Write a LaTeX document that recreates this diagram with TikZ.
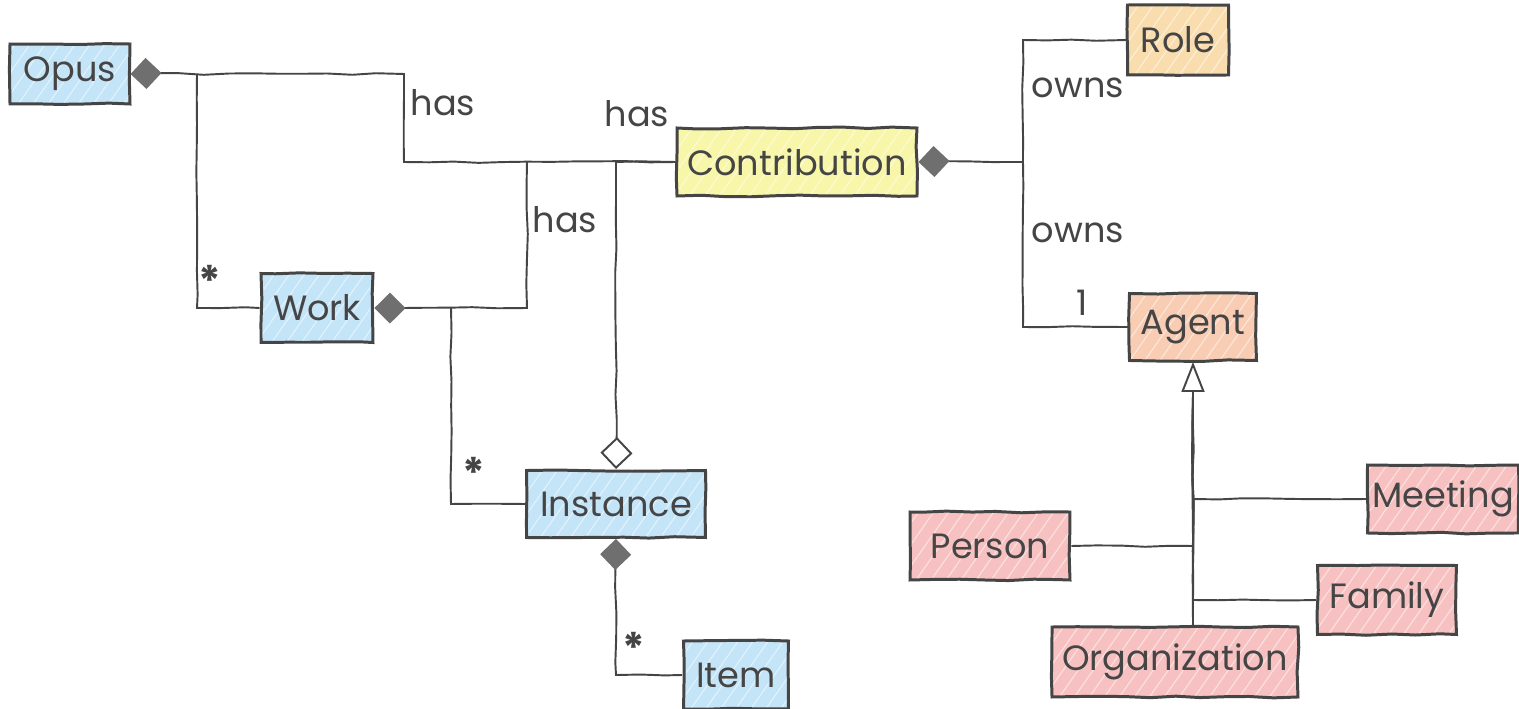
\documentclass[tikz,border=0pt]{standalone}
\usepackage{fontspec}
\setmainfont{Poppins}
\usetikzlibrary{arrows.meta,decorations.pathmorphing,patterns.meta,calc}

\definecolor{ink}{HTML}{454545}
\definecolor{cblue}{HTML}{C4E4F8}
\definecolor{cyellow}{HTML}{F8F6A8}
\definecolor{corange}{HTML}{F9DDAE}
\definecolor{csalmon}{HTML}{F9CDB4}
\definecolor{cpink}{HTML}{F7C1C1}
\definecolor{dgray}{HTML}{6F6F6F}

\tikzset{
  sketch/.style={decorate, decoration={random steps, segment length=14pt, amplitude=0.5pt}},
  cls/.style={draw=ink, line width=1.7pt, sketch, text=ink,
    font=\fontsize{20}{24}\selectfont, inner sep=0pt,
    preaction={fill=#1},
    pattern={Lines[angle=55,distance=7pt,line width=0.6pt]},
    pattern color=white!55!#1},
  lab/.style={text=ink, font=\fontsize{20}{24}\selectfont, inner sep=0pt},
  mult/.style={text=ink, font=\fontsize{24}{26}\selectfont\bfseries, inner sep=0pt},
  conn/.style={draw=ink, line width=1.1pt, sketch},
  compo/.style={conn, {Diamond[length=0.62cm,width=0.62cm,color=dgray,fill=dgray]}-},
  agg/.style={conn, {Diamond[open,length=0.64cm,width=0.64cm,fill=white]}-},
  gen/.style={conn, -{Triangle[open,length=0.6cm,width=0.46cm,fill=white]}},
}

\begin{document}
\pgfmathsetseed{7}
\begin{tikzpicture}[x=0.02cm,y=-0.02cm]
  \fill[white] (0,0) rectangle (1519,709);
  \useasboundingbox (0,0) rectangle (1519,709);

  % classes
  \node[cls=cblue,   minimum width=2.4cm,  minimum height=1.2cm]  (opus)     at (70,74)   {Opus};
  \node[cls=cblue,   minimum width=2.24cm, minimum height=1.38cm] (work)     at (317,308) {Work};
  \node[cls=cyellow, minimum width=4.8cm,  minimum height=1.36cm] (contrib)  at (797,162) {Contribution};
  \node[cls=corange, minimum width=2.02cm, minimum height=1.4cm]  (role)     at (1178,40) {Role};
  \node[cls=csalmon, minimum width=2.54cm, minimum height=1.34cm] (agent)    at (1193,327) {Agent};
  \node[cls=cblue,   minimum width=3.58cm, minimum height=1.34cm] (instance) at (616,504) {Instance};
  \node[cls=cblue,   minimum width=2.1cm,  minimum height=1.36cm] (item)     at (736,675) {Item};
  \node[cls=cpink,   minimum width=3.2cm,  minimum height=1.36cm] (person)   at (990,546) {Person};
  \node[cls=cpink,   minimum width=3.02cm, minimum height=1.36cm] (meeting)  at (1443,499) {Meeting};
  \node[cls=cpink,   minimum width=2.78cm, minimum height=1.38cm] (family)   at (1387,600) {Family};
  \node[cls=cpink,   minimum width=4.92cm, minimum height=1.4cm]  (org)      at (1175,662) {Organization};

  % bends and junctions
  \coordinate (jh) at (404,74);
  \coordinate (jo) at (197,74);
  \coordinate (jw) at (527,162);
  \coordinate (ji) at (451,308);
  \coordinate (jc) at (1023,162);
  \coordinate (gb) at (1193,395);

  % associations
  \draw[compo] (opus.east) -- (jh) |- (contrib.west);
  \draw[conn]  (jo) |- (work.west);
  \draw[compo] (work.east) -| (jw);
  \draw[conn]  (ji) |- (instance.west);
  \draw[agg]   (instance.north) |- (contrib.west);
  \draw[compo] (instance.south) |- (item.west);
  \draw[compo] (contrib.east) -- (jc) |- (role.west);
  \draw[conn]  (jc) |- (agent.west);

  % generalisation
  \draw[gen]  (gb) -- (agent.south);
  \draw[conn] (person.east) -| (gb);
  \draw[conn] (meeting.west) -| (gb);
  \draw[conn] (family.west) -| (gb);
  \draw[conn] (org.north -| gb) -- (gb);

  % labels
  \node[lab] (has1)  at (443,103)  {has};
  \node[lab] (has2)  at (637,114)  {has};
  \node[lab] (has3)  at (565,220)  {has};
  \node[lab] (owns1) at (1078,88)  {owns};
  \node[lab] (owns2) at (1078,233) {owns};
  \node[lab] (one)   at (1082,303) {1};
  \node[mult] (m1) at (210,281) {*};
  \node[mult] (m2) at (474,473) {*};
  \node[mult] (m3) at (634,648) {*};
\end{tikzpicture}
\end{document}
